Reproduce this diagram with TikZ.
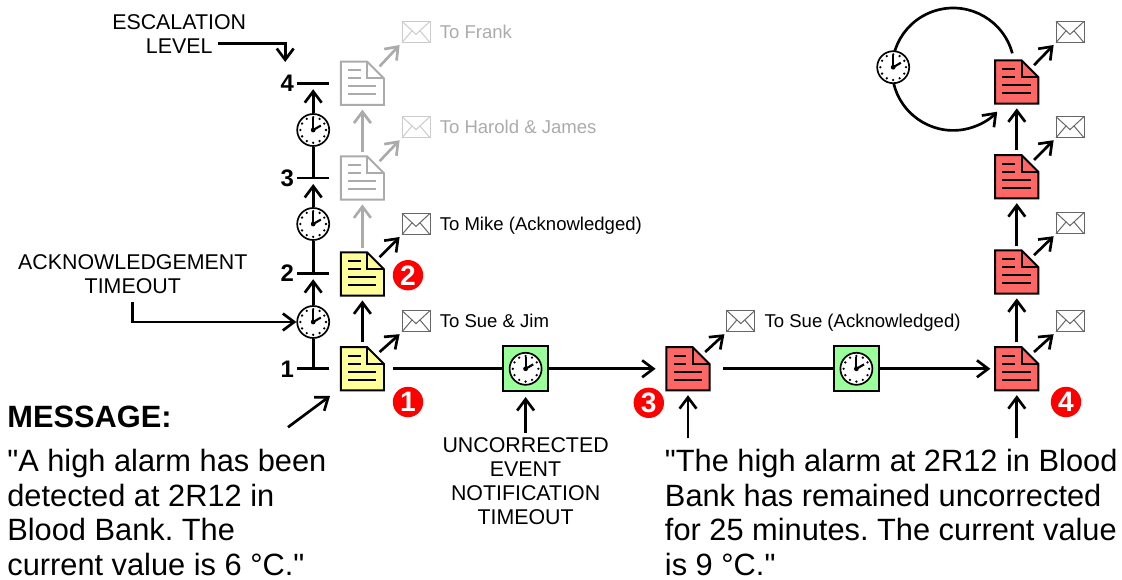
\documentclass[tikz,border=0pt]{standalone}
\usepackage{fontspec}
\setmainfont[Ligatures=TeXOff]{Liberation Sans}
\usetikzlibrary{arrows.meta, positioning, calc}
\frenchspacing
\tikzset{
    flow/.style={line width=1.9pt, -{Straight Barb[length=8pt, width=12pt, line width=1.9pt]}},
    plainline/.style={line width=1.9pt},
    docbox/.style={minimum size=1.08cm, inner sep=0pt, outer sep=0.12cm},
    mailbox/.style={minimum width=0.7cm, minimum height=0.53cm, inner sep=0pt, outer sep=0.06cm},
    clockbox/.style={circle, minimum size=0.8cm, inner sep=0pt},
    greenbox/.style={draw, line width=1.5pt, fill=timegreen, minimum size=1.12cm, inner sep=0pt},
    tick/.style={minimum width=0.8cm, minimum height=0pt, inner sep=0pt},
    badge/.style={circle, fill=red, text=white, minimum size=0.76cm, inner sep=0pt, font=\fontsize{20}{20}\selectfont\bfseries},
    label/.style={font=\fontsize{13.2}{13.2}\selectfont, text height=11.5pt, text depth=2.5pt, anchor=west},
    capslabel/.style={font=\fontsize{15.2}{17}\selectfont, align=center},
    msg/.style={font=\fontsize{21.9}{24.7}\selectfont, align=left, anchor=north west},
    level/.style={font=\fontsize{17}{17}\selectfont\bfseries, inner sep=0pt},
}
\definecolor{timegreen}{HTML}{99FF99}
\definecolor{notered}{HTML}{FF6666}
\definecolor{noteyellow}{HTML}{FFFF99}
\definecolor{faded}{HTML}{ABABAB}
% page icon: name, position, fill, line colour
\newcommand{\docicon}[4]{
    \node[docbox] (#1) at (#2) {};
    \begin{scope}[shift={(#1)}, line width=1.4pt, draw=#4]
        \draw[fill=#3] (-0.54,-0.54) -- (-0.54,0.54) -- (0.12,0.54) -- (0.54,0.12) -- (0.54,-0.54) -- cycle;
        \draw (0.12,0.54) -- (0.12,0.12) -- (0.54,0.12);
        \draw (-0.36,0.33) -- (-0.04,0.33);
        \draw (-0.36,0.125) -- (-0.04,0.125);
        \draw (-0.36,-0.08) -- (0.35,-0.08);
        \draw (-0.36,-0.28) -- (0.35,-0.28);
    \end{scope}
}
% envelope: name, position, line colour
\newcommand{\mailicon}[3]{
    \node[mailbox] (#1) at (#2) {};
    \begin{scope}[shift={(#1)}, line width=0.7pt, draw=#3]
        \draw[fill=white] (-0.35,-0.265) rectangle (0.35,0.265);
        \draw (-0.35,0.265) -- (0,-0.06) -- (0.35,0.265);
        \draw (-0.35,-0.265) -- (-0.1,0.03);
        \draw (0.35,-0.265) -- (0.1,0.03);
    \end{scope}
}
% clock face: name, position
\newcommand{\clockicon}[2]{
    \node[clockbox, draw, fill=white, line width=1.2pt] (#1) at (#2) {};
    \begin{scope}[shift={(#1)}]
        \foreach \a in {0,30,...,330}
            \fill (\a:0.32) circle (0.032);
        \draw[line width=1.3pt] (0,0) -- (90:0.3);
        \draw[line width=1.5pt] (0,0) -- (30:0.22);
        \fill (0,0) circle (0.06);
    \end{scope}
}
% page to envelope
\newcommand{\mailflow}[3][black]{
    \draw[flow, draw=#1] ($(#2.north east)+(-0.23,-0.24)$) -- (#3.south west);
}
\begin{document}
\begin{tikzpicture}
    \useasboundingbox (0,0) rectangle (28.05,-14.5);

    % levels
    \foreach \n/\y in {1/-9.22, 2/-6.83, 3/-4.45, 4/-2.08} {
        \node[tick] (tick\n) at (7.83,\y) {};
        \draw[plainline] (tick\n.west) -- (tick\n.east);
        \node[level, left=0.07cm of tick\n] (num\n) {\n};
    }
    \clockicon{clockA}{7.83,-8.05}
    \clockicon{clockB}{7.83,-5.6}
    \clockicon{clockC}{7.83,-3.25}
    \draw[plainline] (tick1) -- (clockA);
    \draw[flow] (clockA) -- ($(tick2)+(0,-0.15)$);
    \draw[plainline] (tick2) -- (clockB);
    \draw[flow] (clockB) -- ($(tick3)+(0,-0.15)$);
    \draw[plainline] (tick3) -- (clockC);
    \draw[flow] (clockC) -- ($(tick4)+(0,-0.15)$);

    % yellow and grey pages
    \docicon{docA}{9.06,-9.22}{noteyellow}{black}
    \docicon{docB}{9.06,-6.85}{noteyellow}{black}
    \docicon{docC}{9.06,-4.45}{white}{faded}
    \docicon{docD}{9.06,-2.08}{white}{faded}
    \mailicon{mailA}{10.4,-8.03}{black!60}
    \mailicon{mailB}{10.4,-5.6}{black!60}
    \mailicon{mailC}{10.4,-3.18}{black!20}
    \mailicon{mailD}{10.4,-0.8}{black!20}
    \node[label, right=0.06cm of mailA] (toA) {To Sue \& Jim};
    \node[label, right=0.06cm of mailB] (toB) {To Mike (Acknowledged)};
    \node[label, right=0.06cm of mailC, text=faded] (toC) {To Harold \& James};
    \node[label, right=0.06cm of mailD, text=faded] (toD) {To Frank};
    \draw[flow] (docA) -- (docB);
    \draw[flow, draw=faded] (docB) -- (docC);
    \draw[flow, draw=faded] (docC) -- (docD);
    \mailflow{docA}{mailA}
    \mailflow{docB}{mailB}
    \mailflow[faded]{docC}{mailC}
    \mailflow[faded]{docD}{mailD}

    % timeline
    \node[greenbox] (waitA) at (13.14,-9.22) {};
    \clockicon{clockD}{13.14,-9.22}
    \docicon{docE}{17.2,-9.22}{notered}{black}
    \node[greenbox] (waitB) at (21.41,-9.22) {};
    \clockicon{clockE}{21.41,-9.22}
    \docicon{docF}{25.42,-9.22}{notered}{black}
    \docicon{docG}{25.42,-6.8}{notered}{black}
    \docicon{docH}{25.42,-4.42}{notered}{black}
    \docicon{docI}{25.42,-2.05}{notered}{black}
    \mailicon{mailE}{18.52,-8.03}{black!60}
    \mailicon{mailF}{26.75,-8.03}{black!60}
    \mailicon{mailG}{26.75,-5.58}{black!60}
    \mailicon{mailH}{26.75,-3.18}{black!60}
    \mailicon{mailI}{26.75,-0.8}{black!60}
    \node[label, right=0.06cm of mailE] (toE) {To Sue (Acknowledged)};
    \draw[plainline] ($(docA.east)+(0.1,0)$) -- (waitA);
    \draw[flow] (waitA) -- ($(docE.west)+(-0.15,0)$);
    \draw[plainline] ($(docE.east)+(0.22,0)$) -- (waitB);
    \draw[flow] (waitB) -- (docF);
    \draw[flow] (docF) -- (docG);
    \draw[flow] (docG) -- (docH);
    \draw[flow] (docH) -- (docI);
    \mailflow{docE}{mailE}
    \mailflow{docF}{mailF}
    \mailflow{docG}{mailG}
    \mailflow{docH}{mailH}
    \mailflow{docI}{mailI}

    % repeat loop
    \coordinate (loopcentre) at (23.83,-1.73);
    \draw[flow] ($(loopcentre)+(15:1.53)$) arc[start angle=15, end angle=316, radius=1.53];
    \clockicon{clockF}{22.33,-1.68}

    % numbered badges
    \node[badge] (badgeA) at (10.2,-10.05) {1};
    \node[badge] (badgeB) at (10.2,-6.88) {2};
    \node[badge] (badgeC) at (16.22,-10.07) {3};
    \node[badge] (badgeD) at (26.65,-10.05) {4};

    % captions
    \node[capslabel] (esc) at (4.48,-0.85) {ESCALATION\\LEVEL};
    \coordinate (escstart) at (5.45,-1.09);
    \coordinate (escbend) at (7.13,-1.09);
    \coordinate (escend) at (7.13,-1.55);
    \draw[flow] (escstart) -- (escbend) -- (escend);
    \node[capslabel] (ack) at (3.32,-6.85) {ACKNOWLEDGEMENT\\TIMEOUT};
    \coordinate (ackstart) at (3.32,-7.55);
    \coordinate (ackbend) at (3.32,-8.05);
    \draw[flow] (ackstart) -- (ackbend) -- (clockA);
    \node[capslabel] (timeout) at (13.14,-12.03) {UNCORRECTED\\EVENT\\NOTIFICATION\\TIMEOUT};
    \draw[flow] (timeout.north) -- ($(waitA.south)+(0,-0.12)$);

    % messages
    \node[font=\fontsize{21.9}{21.9}\selectfont\bfseries, anchor=west] (msgtitle) at (0.06,-10.42) {MESSAGE:};
    \node[msg] (msgA) at (0.06,-11.1) {"A high alarm has been\\detected at 2R12 in\\Blood Bank. The\\current value is 6 °C."};
    \node[msg] (msgB) at (16.5,-11.1) {"The high alarm at 2R12 in Blood\\Bank has remained uncorrected\\for 25 minutes. The current value\\is 9 °C."};
    \coordinate (msgApoint) at (7.2,-10.68);
    \coordinate (msgAend) at (8.25,-9.9);
    \coordinate (msgBpoint) at (17.2,-10.95);
    \coordinate (msgCpoint) at (25.42,-10.95);
    \draw[flow] (msgApoint) -- (msgAend);
    \draw[flow] (msgBpoint) -- (docE);
    \draw[flow] (msgCpoint) -- (docF);
\end{tikzpicture}
\end{document}
